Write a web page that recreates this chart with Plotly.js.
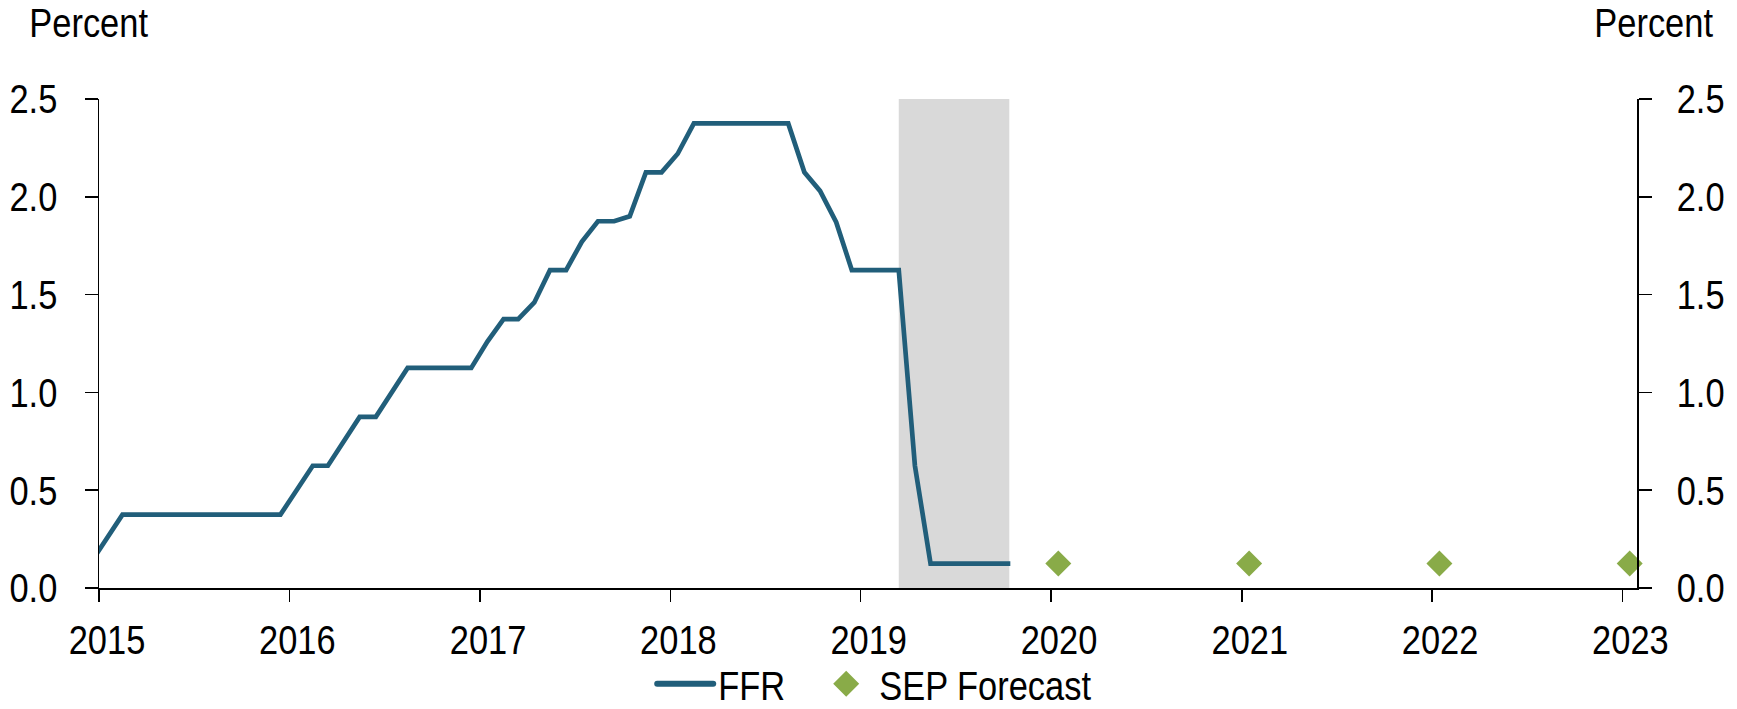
<!DOCTYPE html>
<html>
<head>
<meta charset="utf-8">
<script src="https://cdn.plot.ly/plotly-3.0.1.min.js"></script>
<style>
  html, body { margin: 0; padding: 0; background: #ffffff; }
  #chart { width: 1737px; height: 709px; }
</style>
</head>
<body>
<div id="chart"></div>
<script>
// ---- Data ----
// Monthly federal funds rate (plotted mid-month), Dec 2014 .. Oct 2019
const ffrStart = [2014, 12];
const ffrValues = [
  0.125,                                                   // 2014-12
  0.25, 0.375, 0.375, 0.375, 0.375, 0.375, 0.375, 0.375, 0.375, 0.375, 0.375, 0.375, // 2015
  0.5, 0.625, 0.625, 0.75, 0.875, 0.875, 1.0, 1.125, 1.125, 1.125, 1.125, 1.125,     // 2016
  1.26, 1.375, 1.375, 1.46, 1.625, 1.625, 1.77, 1.875, 1.875, 1.90, 2.125, 2.125,    // 2017
  2.22, 2.375, 2.375, 2.375, 2.375, 2.375, 2.375, 2.375, 2.125, 2.03, 1.87, 1.625,   // 2018
  1.625, 1.625, 1.625, 0.625, 0.125, 0.125, 0.125, 0.125, 0.125, 0.125               // 2019
];
// SEP forecast points
const sepDates = ['2020-01-15', '2021-01-15', '2022-01-15', '2023-01-15'];
const sepValues = [0.125, 0.125, 0.125, 0.125];
// Shaded period
const shadeStart = '2019-03-15';
const shadeEnd = '2019-10-13';
// Axis ticks
const yearTickVals = ['2015-01-01','2016-01-01','2017-01-01','2018-01-01','2019-01-01','2020-01-01','2021-01-01','2022-01-01','2023-01-01'];
const yearTickText = ['2015','2016','2017','2018','2019','2020','2021','2022','2023'];
const yTickVals = [0, 0.5, 1.0, 1.5, 2.0, 2.5];
const yTickText = ['0.0', '0.5', '1.0', '1.5', '2.0', '2.5'];

// build mid-month date labels for the FFR series
const ffrDates = ffrValues.map((_, i) => {
  const total = ffrStart[0] * 12 + (ffrStart[1] - 1) + i;
  const y = Math.floor(total / 12);
  const m = (total % 12) + 1;
  return y + '-' + String(m).padStart(2, '0') + '-15';
});

const FONT = '"Liberation Sans Narrow", "Arial Narrow", "Liberation Sans", Arial, sans-serif';
const LINE_COLOR = '#215e7a';
const SEP_COLOR = '#89ab48';
const CONDENSE = 0.84;   // horizontal condensing of text to mimic a narrow face

const traces = [
  {
    x: ffrDates, y: ffrValues, type: 'scatter', mode: 'lines', name: 'FFR',
    line: { color: LINE_COLOR, width: 4.7 }, hoverinfo: 'skip'
  },
  {
    x: sepDates, y: sepValues, type: 'scatter', mode: 'markers', name: 'SEP Forecast',
    marker: { symbol: 'diamond', size: 20, color: SEP_COLOR }, cliponaxis: false, hoverinfo: 'skip'
  },
  {
    x: [], y: [], yaxis: 'y2', type: 'scatter', showlegend: false, hoverinfo: 'skip'
  }
];

const axisCommon = {
  range: [0, 2.5], tickvals: yTickVals, ticktext: yTickText,
  ticks: 'outside', ticklen: 13, tickwidth: 1.5, tickcolor: '#000',
  showline: true, linecolor: '#000', linewidth: 1.5,
  showgrid: false, zeroline: false, fixedrange: true,
  tickfont: { family: FONT, size: 41, color: '#000' }
};

const layout = {
  width: 1737, height: 709,
  margin: { l: 99, r: 100, t: 99, b: 121, autoexpand: false },
  paper_bgcolor: '#ffffff', plot_bgcolor: '#ffffff',
  font: { family: FONT, color: '#000' },
  showlegend: true,
  legend: {
    orientation: 'h', x: 0.3597, xanchor: 'left', y: -0.128, yanchor: 'top',
    font: { family: FONT, size: 41, color: '#000' }, bgcolor: 'rgba(0,0,0,0)',
    itemwidth: 56, entrywidth: 90, entrywidthmode: 'pixels', tracegroupgap: 0
  },
  xaxis: {
    type: 'date', range: ['2015-01-01', '2023-01-29'],
    tickvals: yearTickVals, ticktext: yearTickText,
    ticks: 'outside', ticklen: 12, tickwidth: 1.5, tickcolor: '#000',
    showline: true, linecolor: '#000', linewidth: 1.5,
    showgrid: false, zeroline: false, fixedrange: true,
    ticklabelshift: 8, ticklabelstandoff: 3,
    tickfont: { family: FONT, size: 41, color: '#000' }
  },
  yaxis: Object.assign({}, axisCommon, { side: 'left', ticklabelstandoff: 19 }),
  yaxis2: Object.assign({}, axisCommon, { side: 'right', overlaying: 'y', ticklabelstandoff: 17 }),
  shapes: [
    { type: 'rect', xref: 'x', yref: 'y', x0: shadeStart, x1: shadeEnd, y0: 0, y1: 2.5,
      fillcolor: '#d9d9d9', line: { width: 0 }, layer: 'below' }
  ],
  annotations: [
    { text: 'Percent', xref: 'paper', yref: 'paper', x: 0, xshift: -10, y: 1, yshift: 76,
      xanchor: 'center', yanchor: 'middle', showarrow: false,
      font: { family: FONT, size: 41, color: '#000' } },
    { text: 'Percent', xref: 'paper', yref: 'paper', x: 1, xshift: 17, y: 1, yshift: 76,
      xanchor: 'center', yanchor: 'middle', showarrow: false,
      font: { family: FONT, size: 41, color: '#000' } }
  ]
};

function finishStyling(gd) {
  gd.querySelectorAll('svg text').forEach(t => {
    const x = parseFloat(t.getAttribute('x')) || 0;
    const tr = t.getAttribute('transform') || '';
    t.setAttribute('transform', (tr + ' translate(' + x + ',0) scale(' + CONDENSE + ',1) translate(' + (-x) + ',0)').trim());
  });
  // let the last legend label run past the fixed entry width
  gd.querySelectorAll('.legend .scrollbox').forEach(g => g.removeAttribute('clip-path'));
  // legend symbols: rounded, slightly heavier line; larger diamond like the reference key
  gd.querySelectorAll('.legend path.js-line').forEach(p => {
    p.style.strokeLinecap = 'round';
    p.style.strokeWidth = '6px';
  });
  gd.querySelectorAll('.legend .legendpoints path.scatterpts').forEach(p => {
    p.setAttribute('transform', ((p.getAttribute('transform') || '') + ' scale(1.25)').trim());
  });
}

Plotly.newPlot('chart', traces, layout, { displayModeBar: false, staticPlot: true })
  .then(finishStyling);
</script>
</body>
</html>
